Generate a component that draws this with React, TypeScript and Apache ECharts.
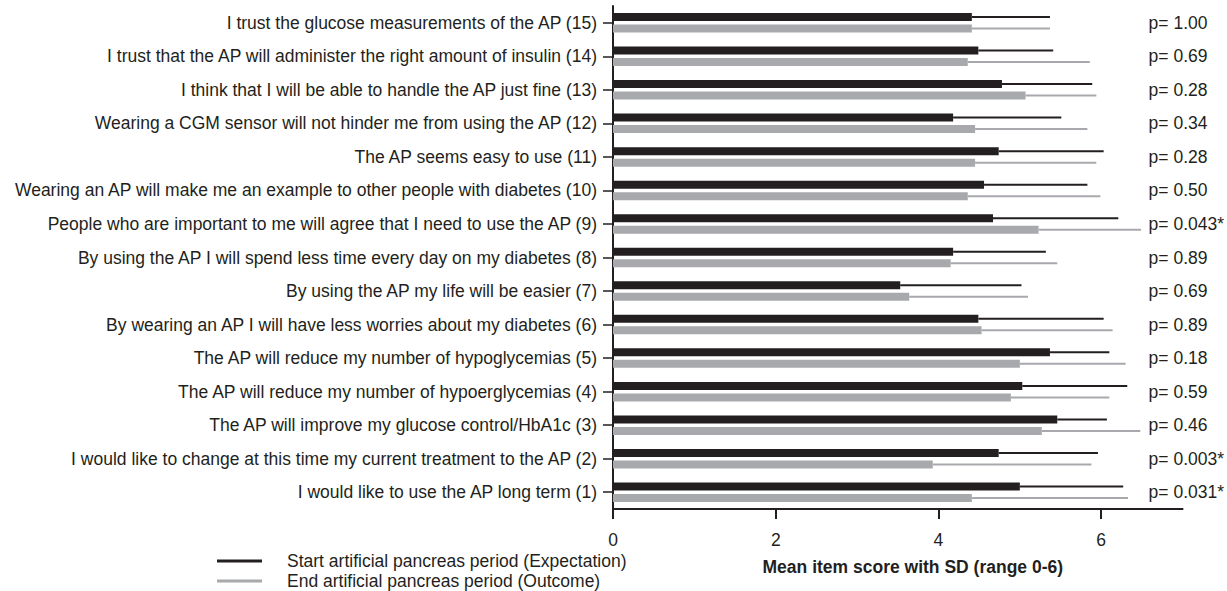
import React, { useEffect, useRef } from 'react';
import * as echarts from 'echarts';

// Questionnaire items, bottom (1) to top (15)
const items = [
  'I would like to use the AP long term (1)',
  'I would like to change at this time my current treatment to the AP (2)',
  'The AP will improve my glucose control/HbA1c (3)',
  'The AP will reduce my number of hypoerglycemias (4)',
  'The AP will reduce my number of hypoglycemias (5)',
  'By wearing an AP I will have less worries about my diabetes (6)',
  'By using the AP my life will be easier (7)',
  'By using the AP I will spend less time every day on my diabetes (8)',
  'People who are important to me will agree that I need to use the AP (9)',
  'Wearing an AP will make me an example to other people with diabetes (10)',
  'The AP seems easy to use (11)',
  'Wearing a CGM sensor will not hinder me from using the AP (12)',
  'I think that I will be able to handle the AP just fine (13)',
  'I trust that the AP will administer the right amount of insulin (14)',
  'I trust the glucose measurements of the AP (15)',
];

const startMean = [5.0, 4.74, 5.46, 5.03, 5.37, 4.49, 3.53, 4.18, 4.67, 4.56, 4.74, 4.18, 4.78, 4.49, 4.41];
const startSD = [1.27, 1.22, 0.61, 1.29, 0.73, 1.54, 1.49, 1.14, 1.54, 1.27, 1.29, 1.33, 1.11, 0.92, 0.96];
const endMean = [4.41, 3.93, 5.27, 4.89, 5.0, 4.53, 3.64, 4.15, 5.23, 4.36, 4.45, 4.45, 5.07, 4.36, 4.41];
const endSD = [1.92, 1.95, 1.21, 1.21, 1.3, 1.61, 1.46, 1.31, 1.26, 1.63, 1.49, 1.38, 0.87, 1.5, 0.96];

const pValues = [
  'p= 0.031*', 'p= 0.003*', 'p= 0.46', 'p= 0.59', 'p= 0.18', 'p= 0.89', 'p= 0.69', 'p= 0.89',
  'p= 0.043*', 'p= 0.50', 'p= 0.28', 'p= 0.34', 'p= 0.28', 'p= 0.69', 'p= 1.00',
];

const xTicks = [0, 2, 4, 6];
const seriesNames = [
  'Start artificial pancreas period (Expectation)',
  'End artificial pancreas period (Outcome)',
];

const BLACK = '#231f20';
const GRAY = '#a7a9ac';
const FONT = "'Liberation Sans', Arial, Helvetica, sans-serif";
const FS = 17.5;

export default function App() {
  const ref = useRef<HTMLDivElement>(null);

  useEffect(() => {
    document.body.style.margin = '0';
    const chart = echarts.init(ref.current!, null, { renderer: 'svg' });
    const BAR = 8;
    const GAP = 3.5;
    const off = (BAR + GAP) / 2;

    const whisker = (color: string, dy: number) => (params: any, api: any) => {
      const c = api.value(0);
      const m = api.value(1);
      const s = api.value(2);
      const p0 = api.coord([m, c]);
      const p1 = api.coord([m + s, c]);
      return {
        type: 'line',
        shape: { x1: p0[0], y1: p0[1] + dy, x2: p1[0], y2: p1[1] + dy },
        style: { stroke: color, lineWidth: 2 },
      };
    };

    const legendBase = {
      orient: 'vertical',
      left: 217,
      itemWidth: 45,
      itemHeight: 3,
      icon: 'rect',
      padding: 0,
      textStyle: { fontSize: FS, color: BLACK, fontFamily: FONT, padding: [0, 0, 0, 20] },
    };

    chart.setOption({
      animation: false,
      textStyle: { fontFamily: FONT },
      grid: { left: 613, top: 6, width: 577, height: 503, containLabel: false },
      legend: [
        { ...legendBase, top: 552, data: [seriesNames[0]] },
        { ...legendBase, top: 572, data: [seriesNames[1]] },
      ],
      xAxis: {
        type: 'value',
        min: 0,
        max: 7,
        name: 'Mean item score with SD (range 0-6)',
        nameLocation: 'middle',
        nameGap: 49,
        nameTextStyle: { fontSize: FS, fontWeight: 'bold', color: BLACK, fontFamily: FONT, padding: [0, 0, 0, 30] },
        axisLine: { show: true, lineStyle: { color: BLACK, width: 2 } },
        axisTick: { show: true, length: 10, lineStyle: { color: BLACK, width: 2 }, customValues: xTicks },
        axisLabel: { fontSize: FS, color: BLACK, margin: 22, customValues: xTicks, fontFamily: FONT },
        splitLine: { show: false },
      },
      yAxis: [
        {
          type: 'category',
          data: items,
          axisLine: { show: true, onZero: false, lineStyle: { color: BLACK, width: 2 } },
          axisTick: { show: true, alignWithLabel: true, length: 10, lineStyle: { color: BLACK, width: 1.5 } },
          axisLabel: { fontSize: FS, color: BLACK, margin: 16, fontFamily: FONT },
        },
        {
          type: 'category',
          data: pValues,
          position: 'right',
          offset: -34,
          axisLine: { show: false },
          axisTick: { show: false },
          axisLabel: { fontSize: FS, color: BLACK, margin: 0, align: 'left', fontFamily: FONT },
        },
      ],
      series: [
        {
          name: seriesNames[0],
          type: 'bar',
          data: startMean,
          barWidth: BAR,
          barGap: '43.75%',
          itemStyle: { color: BLACK },
        },
        {
          name: seriesNames[1],
          type: 'bar',
          data: endMean,
          barWidth: BAR,
          barGap: '43.75%',
          itemStyle: { color: GRAY },
        },
        {
          type: 'custom',
          name: 'sd-start',
          renderItem: whisker(BLACK, -off),
          encode: { x: 1, y: 0 },
          data: startMean.map((m, i) => [i, m, startSD[i]]),
          z: 3,
        },
        {
          type: 'custom',
          name: 'sd-end',
          renderItem: whisker(GRAY, off),
          encode: { x: 1, y: 0 },
          data: endMean.map((m, i) => [i, m, endSD[i]]),
          z: 3,
        },
      ],
    });
    return () => chart.dispose();
  }, []);

  return <div ref={ref} style={{ width: 1227, height: 591 }} />;
}
